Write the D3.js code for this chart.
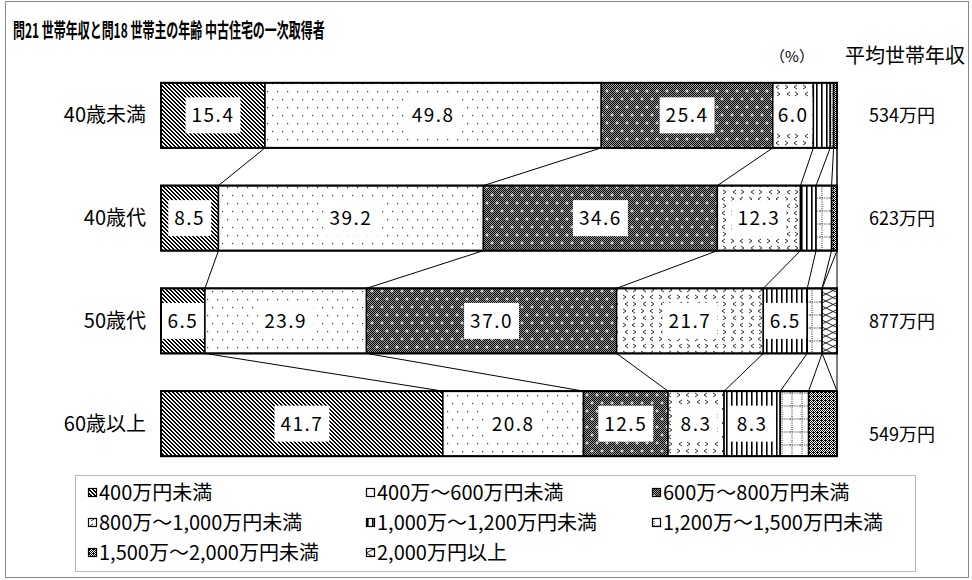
<!doctype html>
<html lang="ja">
<head>
<meta charset="utf-8">
<title>問21 世帯年収と問18 世帯主の年齢</title>
<script src="https://cdn.jsdelivr.net/npm/d3@7"></script>
<style>
  body { margin: 0; background: #fff; }
  svg text { font-family: "Noto Sans CJK JP", "Noto Sans", sans-serif; fill: #000; }
</style>
</head>
<body>
<svg id="chart" width="972" height="580"></svg>
<script>
// data -------------------------------------------------
var ages = ["40歳未満", "40歳代", "50歳代", "60歳以上"];
var incomeBands = ["400万円未満", "400万～600万円未満", "600万～800万円未満",
  "800万～1,000万円未満", "1,000万～1,200万円未満", "1,200万～1,500万円未満",
  "1,500万～2,000万円未満", "2,000万円以上"];
var shareUnder40 = [15.4, 49.8, 25.4, 6.0, 2.5, 0.5, 0.5, 0];
var share40s = [8.5, 39.2, 34.6, 12.3, 2.3, 2.3, 0.8, 0];
var share50s = [6.5, 23.9, 37.0, 21.7, 6.5, 2.2, 0, 2.2];
var share60plus = [41.7, 20.8, 12.5, 8.3, 8.3, 4.2, 4.2, 0];
var avgIncome = [534, 623, 877, 549];
var rows = [shareUnder40, share40s, share50s, share60plus];

var svg = d3.select("#chart");

// scales
var x = d3.scaleLinear().domain([0, 100]).range([161, 837]);
var y = d3.scaleBand().domain(ages).range([64, 475])
  .paddingInner(0.367).paddingOuter(0.183);

// patterns ---------------------------------------------
var defs = svg.append("defs");
function pat(id, w, h) {
  var p = defs.append("pattern").attr("id", id)
    .attr("patternUnits", "userSpaceOnUse").attr("width", w).attr("height", h);
  return p;
}
// 1px checkers, used by the dark fills
function checker(id, light) {
  var c = pat(id, 2, 2);
  c.append("rect").attr("width", 2).attr("height", 2).attr("fill", light);
  c.append("rect").attr("width", 1).attr("height", 1).attr("fill", "#000");
  c.append("rect").attr("x", 1).attr("y", 1).attr("width", 1).attr("height", 1).attr("fill", "#000");
}
checker("chk", "#fff");
checker("chkDark", "#9a9a9a");

// 0: diagonal stripes, pixel aligned
var p0 = pat("p0", 4, 4).attr("shape-rendering", "crispEdges");
p0.append("rect").attr("width", 4).attr("height", 4).attr("fill", "#fff");
d3.range(4).forEach(function (r) {
  p0.append("rect").attr("x", r).attr("y", r).attr("width", 2).attr("height", 1).attr("fill", "#000");
  if (r == 3) p0.append("rect").attr("x", 0).attr("y", r).attr("width", 1).attr("height", 1).attr("fill", "#000");
});

// 1: sparse dots
var p1 = pat("p1", 10, 16);
p1.append("rect").attr("width", 10).attr("height", 16).attr("fill", "#fff");
p1.append("rect").attr("x", 2).attr("y", 3).attr("width", 1.2).attr("height", 1.2).attr("fill", "#333");
p1.append("rect").attr("x", 7).attr("y", 11).attr("width", 1.2).attr("height", 1.2).attr("fill", "#333");

// 2: dark checker with white crosses
var p2 = pat("p2", 10, 16);
p2.append("rect").attr("width", 10).attr("height", 16).attr("fill", "url(#chkDark)");
[[2, 3], [7, 11]].forEach(function (c) {
  p2.append("path").attr("d", "M" + (c[0] - 1.5) + "," + c[1] + "h3M" + c[0] + "," + (c[1] - 1.5) + "v3")
    .attr("stroke", "#fff").attr("stroke-width", 1);
});

// 3: small chevrons
var p3 = pat("p3", 18, 14);
p3.append("rect").attr("width", 18).attr("height", 14).attr("fill", "#fff");
p3.append("path").attr("d", "M5,1 L2,3 L5,5 M11,1 L14,3 L11,5 M3,8 L6,10 L3,12 M16,8 L13,10 L16,12")
  .attr("stroke", "#333").attr("stroke-width", 1).attr("fill", "none");

// 4: vertical stripes
var p4 = pat("p4", 5, 5);
p4.append("rect").attr("width", 5).attr("height", 5).attr("fill", "#fff");
p4.append("rect").attr("x", 1).attr("width", 1.6).attr("height", 5).attr("fill", "#000");

// 5: dotted grid
var p5 = pat("p5", 10, 13);
p5.append("rect").attr("width", 10).attr("height", 13).attr("fill", "#fff");
p5.append("path").attr("d", "M2,0V13M0,3H10")
  .attr("stroke", "#222").attr("stroke-width", 1).attr("stroke-dasharray", "1,1.2");

// 6: dark checker
var p6 = pat("p6", 4, 4);
p6.append("rect").attr("width", 4).attr("height", 4).attr("fill", "url(#chk)");
p6.append("rect").attr("width", 1).attr("height", 1).attr("x", 1).attr("fill", "#000");

// 7: crossing zigzags
var p7 = pat("p7", 14, 14);
p7.append("rect").attr("width", 14).attr("height", 14).attr("fill", "#fff");
p7.append("path").attr("d", "M0,0 L14,7 L0,14 M14,0 L0,7 L14,14")
  .attr("stroke", "#222").attr("stroke-width", 1).attr("fill", "none");

// outer frame ------------------------------------------
svg.append("rect").attr("x", 5.5).attr("y", 1.5).attr("width", 963).attr("height", 576)
  .attr("fill", "none").attr("stroke", "#888");

// title (condensed to its width in the original) and headers
var title = svg.append("text").attr("font-size", 20).attr("font-weight", "bold")
  .text("問21 世帯年収と問18 世帯主の年齢 中古住宅の一次取得者");
var titleLen = title.node().getComputedTextLength();
title.attr("transform", "translate(13,38) scale(" + (312 / titleLen) + ",1)");
svg.append("text").attr("x", 792).attr("y", 62).attr("text-anchor", "middle")
  .attr("font-size", 15).text("（%）");
svg.append("text").attr("x", 845).attr("y", 63).attr("font-size", 20).text("平均世帯年収");

// stacked segments ------------------------------------
var stacked = rows.map(function (vals, r) {
  var total = d3.sum(vals), acc = 0;
  return vals.map(function (v, i) {
    var d = { age: ages[r], band: i, value: v, x0: acc / total * 100 };
    acc += v;
    d.x1 = acc / total * 100;
    return d;
  });
});

// series lines between neighbouring bars
for (var r = 0; r < stacked.length - 1; r++) {
  stacked[r].forEach(function (d, i) {
    var e = stacked[r + 1][i];
    svg.append("line")
      .attr("x1", x(d.x1)).attr("y1", y(d.age) + y.bandwidth())
      .attr("x2", x(e.x1)).attr("y2", y(e.age))
      .attr("stroke", "#000").attr("stroke-width", 1);
  });
}

var bars = svg.selectAll("g.bar").data(stacked).enter().append("g").attr("class", "bar");

bars.selectAll("rect.seg")
  .data(function (d) { return d.filter(function (s) { return s.value > 0; }); })
  .enter().append("rect").attr("class", "seg")
  .attr("x", function (d) { return x(d.x0); })
  .attr("y", function (d) { return y(d.age); })
  .attr("width", function (d) { return x(d.x1) - x(d.x0); })
  .attr("height", y.bandwidth())
  .attr("fill", function (d) { return "url(#p" + d.band + ")"; })
  .attr("stroke", "#000").attr("stroke-width", 1.5);

bars.append("rect")
  .attr("x", x(0)).attr("y", function (d) { return y(d[0].age); })
  .attr("width", x(100) - x(0)).attr("height", y.bandwidth())
  .attr("fill", "none").attr("stroke", "#000").attr("stroke-width", 2);

// value labels on white boxes
var fmt = d3.format(".1f");
stacked.forEach(function (row) {
  row.filter(function (d) { return d.value >= 5; }).forEach(function (d) {
    var cx = (x(d.x0) + x(d.x1)) / 2, cy = y(d.age) + y.bandwidth() / 2;
    var box = svg.append("rect");
    var t = svg.append("text").attr("x", cx).attr("y", cy + 7)
      .attr("text-anchor", "middle").attr("font-size", 19)
      .attr("letter-spacing", 1.5).text(fmt(d.value));
    var segW = x(d.x1) - x(d.x0) - 2;
    var bw = Math.min(t.node().getComputedTextLength() + 12, segW);
    box.attr("x", cx - bw / 2).attr("y", cy - 18).attr("width", bw).attr("height", 36)
      .attr("fill", "#fff");
  });
});

// category labels and average income
svg.selectAll("text.cat").data(ages).enter().append("text").attr("class", "cat")
  .attr("x", 146).attr("y", function (d) { return y(d) + y.bandwidth() / 2 + 7; })
  .attr("text-anchor", "end").attr("font-size", 20).text(function (d) { return d; });

svg.selectAll("text.avg").data(avgIncome).enter().append("text").attr("class", "avg")
  .attr("x", 902)
  .attr("y", function (d, i) { return y(ages[i]) + y.bandwidth() / 2 + 7 + (i == 3 ? 10 : 0); })
  .attr("text-anchor", "middle").attr("font-size", 18)
  .text(function (d) { return d + "万円"; });

// legend -----------------------------------------------
svg.append("rect").attr("x", 75.5).attr("y", 475.5).attr("width", 840).attr("height", 96)
  .attr("fill", "#fff").attr("stroke", "#bbb");
var colX = [88, 366, 652], rowY = [493, 523, 553];
var leg = svg.selectAll("g.leg").data(incomeBands).enter().append("g").attr("class", "leg")
  .attr("transform", function (d, i) { return "translate(" + colX[i % 3] + "," + rowY[Math.floor(i / 3)] + ")"; });
leg.append("rect").attr("x", 0.5).attr("y", -4.5).attr("width", 8).attr("height", 8)
  .attr("fill", function (d, i) { return "url(#p" + i + ")"; })
  .attr("stroke", "#000").attr("stroke-width", 1.2);
leg.append("text").attr("x", 11).attr("y", 7).attr("font-size", 20).text(function (d) { return d; });
</script>
</body>
</html>
